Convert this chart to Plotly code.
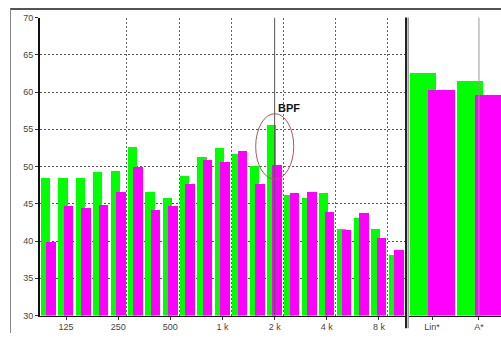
import plotly.graph_objects as go

# 1/3-octave bands, 100 Hz .. 10 kHz
bands = ["100", "125", "160", "200", "250", "315", "400", "500", "630", "800",
         "1k", "1.25k", "1.6k", "2k", "2.5k", "3.15k", "4k", "5k", "6.3k", "8k", "10k"]
level_green = [48.5, 48.5, 48.5, 49.3, 49.4, 52.7, 46.7, 45.8, 48.8, 51.3,
               52.5, 51.8, 50.1, 55.6, 46.3, 45.9, 46.5, 41.7, 43.1, 41.7, 38.2]
level_magenta = [39.9, 44.7, 44.5, 44.9, 46.7, 50.0, 44.2, 44.8, 47.7, 51.0,
                 50.6, 52.2, 47.7, 50.3, 46.5, 46.6, 44.0, 41.5, 43.8, 40.4, 38.9]

# overall levels
totals = ["Lin*", "A*"]
total_green = [62.6, 61.5]
total_magenta = [60.4, 59.7]

# octave tick labels
tick_bands = ["125", "250", "500", "1k", "2k", "4k", "8k"]
tick_text = ["125", "250", "500", "1 k", "2 k", "4 k", "8 k"]
y_ticks = [30, 35, 40, 45, 50, 55, 60, 65, 70]
bpf_band = "2k"

W, H = 501, 338
GREEN, MAGENTA = "#00ff00", "#ff00ff"
font = dict(family="Liberation Sans, Arial, sans-serif", size=9, color="#444")

idx = list(range(len(bands)))
tick_idx = [bands.index(b) for b in tick_bands]
octave_edges = [i + 0.5 for i in tick_idx[1:]]  # dotted boundaries between octaves

fig = go.Figure()
fig.add_bar(x=idx, y=level_green, marker=dict(color=GREEN, line=dict(width=0)),
            offset=-0.44, width=0.53, xaxis="x", yaxis="y")
fig.add_bar(x=idx, y=level_magenta, marker=dict(color=MAGENTA, line=dict(width=0)),
            offset=-0.13, width=0.55, xaxis="x", yaxis="y")
tot_idx = list(range(len(totals)))
fig.add_bar(x=tot_idx, y=total_green, marker=dict(color=GREEN, line=dict(width=0)),
            offset=-0.468, width=0.553, xaxis="x2", yaxis="y2")
fig.add_bar(x=tot_idx, y=total_magenta, marker=dict(color=MAGENTA, line=dict(width=0)),
            offset=-0.085, width=0.575, xaxis="x2", yaxis="y2")

y_dom = [(H - 320) / H, (H - 13) / H]
grid_minor = dict(tickmode="array", showgrid=True, gridcolor="#555",
                  griddash="2px,2px", gridwidth=1, ticks="")

fig.update_layout(
    width=W, height=H, margin=dict(l=0, r=0, t=0, b=0),
    paper_bgcolor="white", plot_bgcolor="white",
    barmode="overlay", showlegend=False, font=font, bargap=0,
    xaxis=dict(domain=[40 / W, 405 / W], range=[-0.5, len(bands) - 0.5],
               tickmode="array", tickvals=tick_idx, ticktext=tick_text,
               showgrid=False, zeroline=False, showline=True, linecolor="#111",
               linewidth=1, ticks="outside", ticklen=3, tickcolor="#333",
               minor=dict(grid_minor, tickvals=octave_edges, gridcolor="#666"),
               anchor="y", fixedrange=True),
    yaxis=dict(domain=y_dom, range=[30, 70], tickmode="array", tickvals=y_ticks,
               showgrid=False, zeroline=False, showline=True, linecolor="#111",
               linewidth=2, ticks="outside", ticklen=3, tickcolor="#333",
               minor=dict(grid_minor, tickvals=y_ticks[1:-1]),
               anchor="x", fixedrange=True),
    xaxis2=dict(domain=[409 / W, 1.0], range=[-0.49, 1.47],
                tickmode="array", tickvals=tot_idx, ticktext=totals,
                showgrid=False, zeroline=False, showline=True, linecolor="#111",
                linewidth=1, ticks="outside", ticklen=3, tickcolor="#333",
                anchor="y2", fixedrange=True),
    yaxis2=dict(domain=y_dom, matches="y", range=[30, 70], showgrid=False,
                zeroline=False, showticklabels=False, showline=False,
                anchor="x2", fixedrange=True),
)

bpf_i = bands.index(bpf_band)
shapes = [
    # frame
    dict(type="line", xref="paper", yref="paper", x0=10 / W, x1=1, y0=1 - 4 / H, y1=1 - 4 / H,
         line=dict(color="#555", width=2)),
    dict(type="line", xref="paper", yref="paper", x0=10.5 / W, x1=10.5 / W, y0=0, y1=1 - 4 / H,
         line=dict(color="#888", width=1)),
    # separator between band spectrum and totals
    dict(type="line", xref="paper", yref="paper", x0=406 / W, x1=406 / W,
         y0=(H - 333) / H, y1=y_dom[1], line=dict(color="#222", width=2)),
    dict(type="line", xref="paper", yref="paper", x0=408.2 / W, x1=408.2 / W,
         y0=(H - 333) / H, y1=y_dom[1], line=dict(color="#999", width=1.5)),
    # BPF cursor line
    dict(type="line", xref="x", yref="y", x0=bpf_i, x1=bpf_i, y0=30, y1=70,
         line=dict(color="#555", width=1), layer="above"),
    # A* cursor line
    dict(type="line", xref="x2", yref="y2", x0=totals.index("A*"), x1=totals.index("A*"),
         y0=30, y1=70, line=dict(color="#999", width=1), layer="above"),
    # BPF ellipse
    dict(type="circle", xref="x", yref="y", x0=bpf_i - 1.09, x1=bpf_i + 1.1,
         y0=48.3, y1=57.1, line=dict(color="#a85a5a", width=1), layer="above"),
]
fig.update_layout(shapes=shapes)

fig.add_annotation(x=bpf_i + 0.06, y=57.9, xref="x", yref="y", text="<b>BPF</b>",
                   showarrow=False, xanchor="left", yanchor="middle",
                   font=dict(family="Liberation Sans, Arial, sans-serif", size=11, color="#111"))

fig.write_html("out.html")
